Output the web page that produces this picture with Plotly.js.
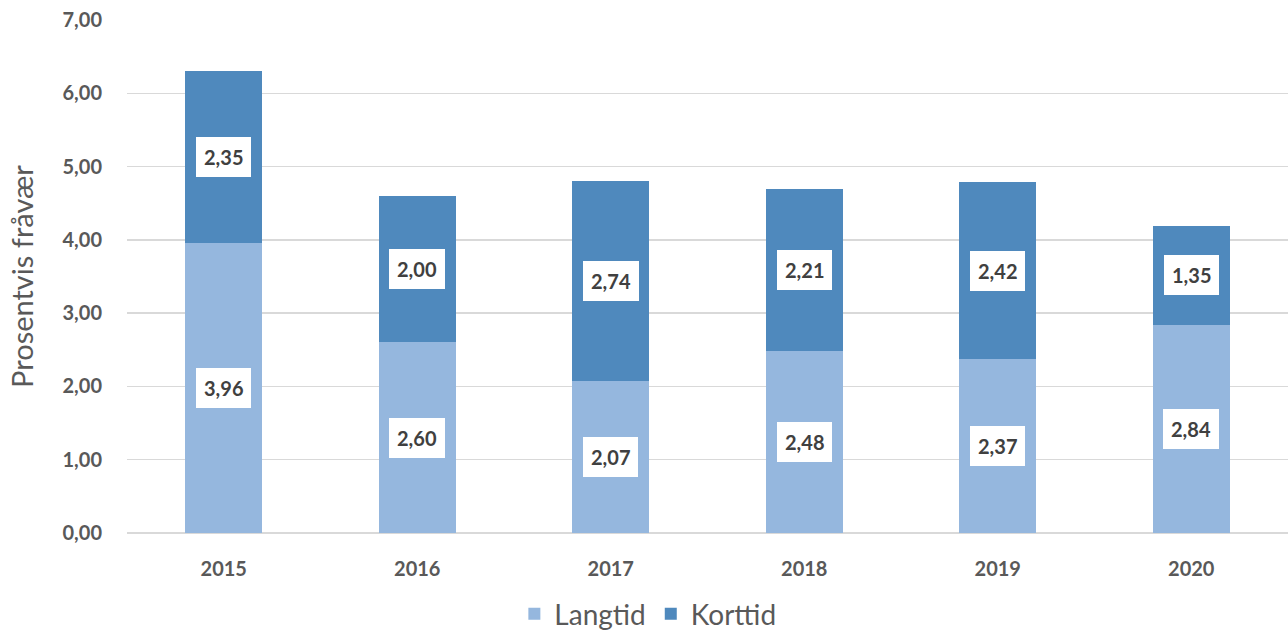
<!DOCTYPE html>
<html><head><meta charset="utf-8">
<script src="https://cdn.plot.ly/plotly-3.0.1.min.js"></script>
<style>html,body{margin:0;padding:0;background:#fff}#c{width:1288px;height:637px}</style>
</head><body><div id="c"></div>
<script>
var years = ['2015','2016','2017','2018','2019','2020'];
var langtid = [3.96, 2.60, 2.07, 2.48, 2.37, 2.84];
var korttid = [2.35, 2.00, 2.74, 2.21, 2.42, 1.35];
var yTicks = [0,1,2,3,4,5,6,7];

function fmt(v){ return v.toFixed(2).replace('.', ','); }

var labFont = {family:'Lato, Calibri, sans-serif', size:20, color:'#404040'};
var annotations = [];
years.forEach(function(y,i){
  annotations.push({x:i, y:langtid[i]/2, xref:'x', yref:'y', text:'<b>'+fmt(langtid[i])+'</b>',
    showarrow:false, bgcolor:'#ffffff', borderpad:8, borderwidth:0, bordercolor:'rgba(0,0,0,0)', font:labFont});
  annotations.push({x:i, y:langtid[i]+korttid[i]/2, xref:'x', yref:'y', text:'<b>'+fmt(korttid[i])+'</b>',
    showarrow:false, bgcolor:'#ffffff', borderpad:8, borderwidth:0, bordercolor:'rgba(0,0,0,0)', font:labFont});
});

var traces = [
  {type:'bar', name:'Langtid', x:years, y:langtid, marker:{color:'#95b7de', line:{width:0}}, hoverinfo:'none'},
  {type:'bar', name:'Korttid', x:years, y:korttid, marker:{color:'#4f89bd', line:{width:0}}, hoverinfo:'none'}
];

var layout = {
  width:1288, height:637,
  margin:{l:127, r:0, t:20, b:104},
  barmode:'stack', bargap:0.6,
  separators:',.',
  paper_bgcolor:'#fff', plot_bgcolor:'#fff',
  font:{family:'Lato, Calibri, sans-serif', color:'#595959'},
  xaxis:{type:'category', range:[-0.5,5.5], automargin:false, showgrid:false, zeroline:false, showline:false, ticks:'',
    tickfont:{size:20, weight:'bold', color:'#595959'}, ticklabelstandoff:22},
  yaxis:{range:[0,7], automargin:false, tickvals:yTicks, tickformat:'.2f', showgrid:true, gridcolor:'#d9d9d9', gridwidth:1.5,
    zeroline:true, zerolinecolor:'#d9d9d9', zerolinewidth:1.5, showline:false, ticks:'',
    tickfont:{size:20, weight:'bold', color:'#595959'}, ticklabelstandoff:24,
    title:{text:'Prosentvis fråvær', font:{size:29, color:'#595959'}, standoff:20}},
  showlegend:true,
  legend:{orientation:'h', xref:'container', yref:'container', x:0.503, xanchor:'center', y:0.036, yanchor:'middle',
    font:{size:28, color:'#595959'}, itemwidth:30, traceorder:'normal'},
  annotations:annotations
};
Plotly.newPlot('c', traces, layout, {staticPlot:true, displayModeBar:false});
</script></body></html>
